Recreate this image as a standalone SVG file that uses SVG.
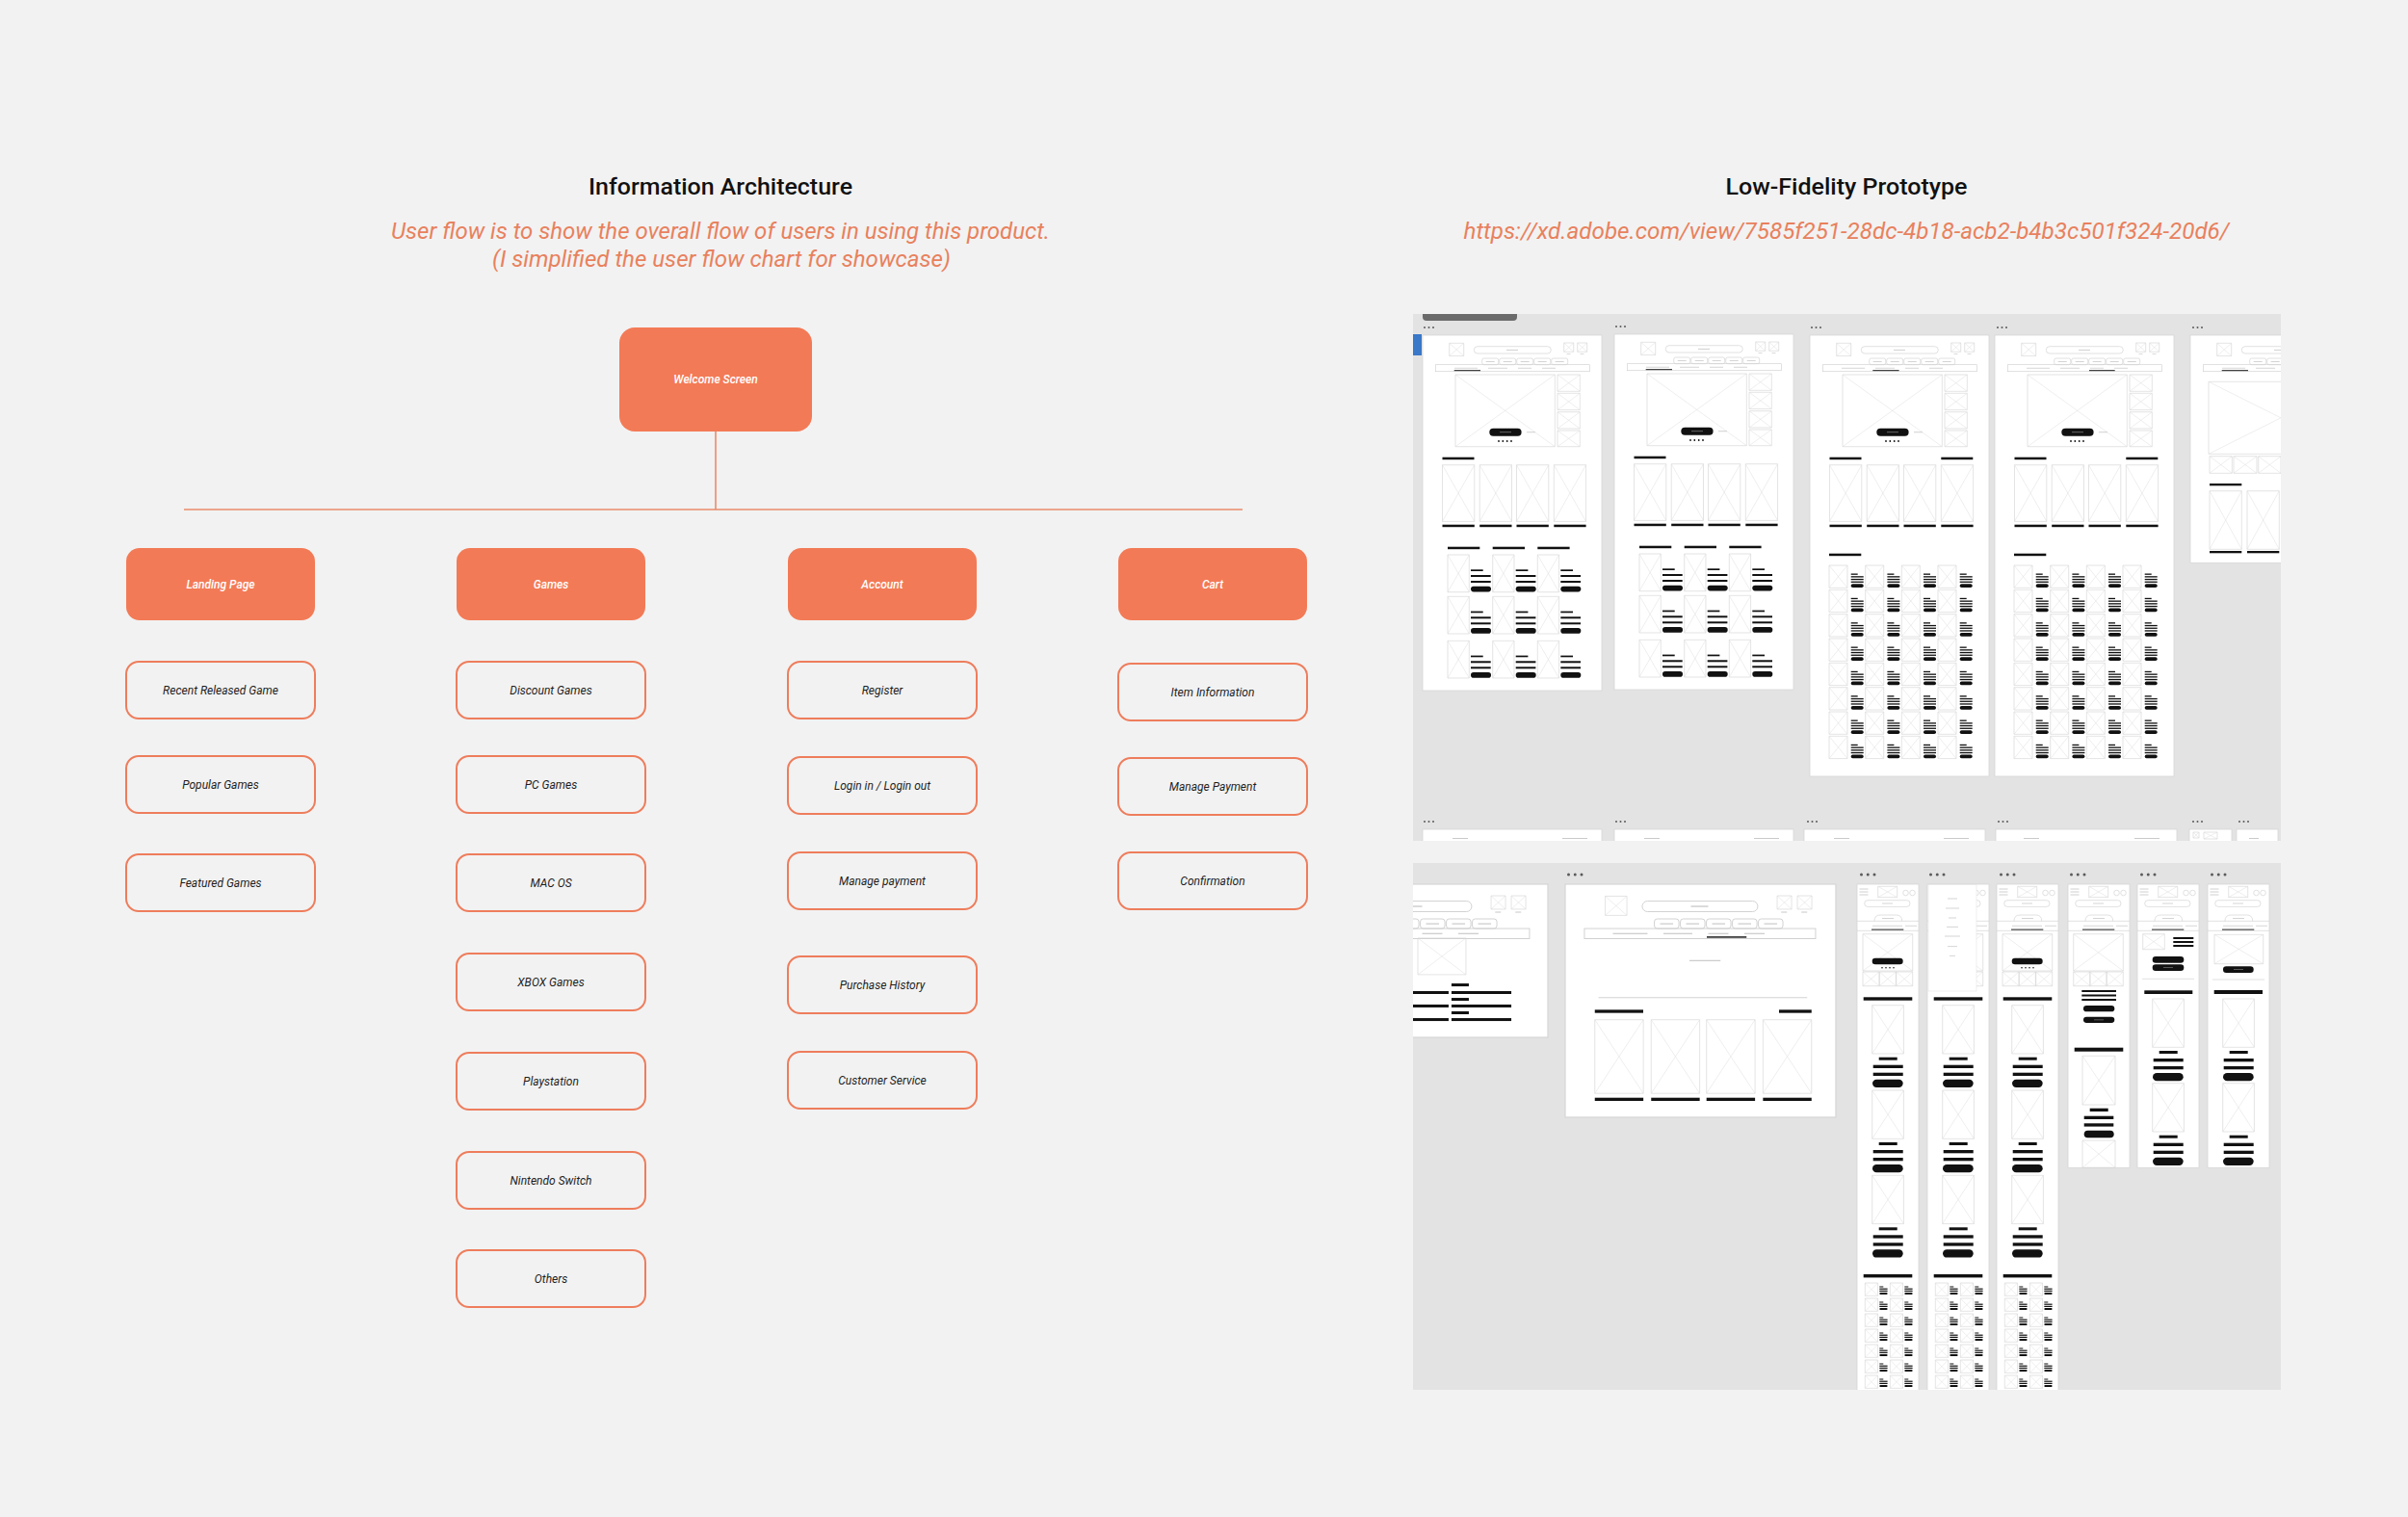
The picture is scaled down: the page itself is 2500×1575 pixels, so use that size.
<svg xmlns="http://www.w3.org/2000/svg" width="2500" height="1575" viewBox="0 0 2500 1575">
<style>
.title{font-family:Roboto,"Liberation Sans",sans-serif;font-weight:500;font-size:24px;fill:#111;text-anchor:middle}
.lede{font-family:Roboto,"Liberation Sans",sans-serif;font-style:italic;font-weight:400;font-size:23px;fill:#E8815D;text-anchor:middle}
.cat rect{fill:#F37A56}
.cat text{font-family:Roboto,"Liberation Sans",sans-serif;font-style:italic;font-weight:500;font-size:12px;fill:#fff;text-anchor:middle}
.leaf rect{fill:#F2F2F2;stroke:#EE7D5C;stroke-width:2}
.leaf text{font-family:Roboto,"Liberation Sans",sans-serif;font-style:italic;font-weight:400;font-size:12px;fill:#1e1e1e;text-anchor:middle}
.conn{fill:none;stroke:#EA8B6A;stroke-width:1.6}
.ab{fill:#fff;stroke:#d6d6d6;stroke-width:0.8}
.ln{fill:none;stroke:#cdcdcd;stroke-width:0.6}
.tx{fill:#cacaca}
.bk{fill:#111}
.dt{fill:#5a5a5a}
.pn{fill:#E3E3E3}
</style>
<defs>
<symbol id="ph" viewBox="0 0 10 10" preserveAspectRatio="none" overflow="visible">
<rect width="10" height="10" fill="none" stroke="#d2d2d2" stroke-width="0.6" vector-effect="non-scaling-stroke"/>
<path d="M0 0L10 10M10 0L0 10" stroke="#dddddd" stroke-width="0.5" fill="none" vector-effect="non-scaling-stroke"/>
</symbol>
<g id="d3" class="dt"><circle cx="1" cy="0" r="1"/><circle cx="5.5" cy="0" r="1"/><circle cx="10" cy="0" r="1"/></g>
<clipPath id="clipTop"><rect x="1467" y="326" width="901" height="547"/></clipPath>
<clipPath id="clipBot"><rect x="1467" y="896" width="901" height="547"/></clipPath>

<g id="dHdr">
<use href="#ph" x="27.7" y="8.3" width="15" height="13.3"/>
<rect x="53.3" y="11.7" width="80" height="7.3" rx="3.65" class="ln"/>
<rect x="87" y="14.9" width="12" height="0.9" class="tx"/>
<use href="#ph" x="146.7" y="8" width="10" height="9.3"/>
<use href="#ph" x="160.7" y="8" width="10" height="9.3"/>
<rect x="149.5" y="19" width="4" height="0.7" class="tx"/>
<rect x="163.5" y="19" width="4" height="0.7" class="tx"/>
<rect x="61.7" y="24" width="17" height="6.7" rx="2" class="ln"/>
<rect x="79.7" y="24" width="17" height="6.7" rx="2" class="ln"/>
<rect x="97.7" y="24" width="17" height="6.7" rx="2" class="ln"/>
<rect x="115.7" y="24" width="17" height="6.7" rx="2" class="ln"/>
<rect x="133.7" y="24" width="17" height="6.7" rx="2" class="ln"/>
<rect x="65.7" y="27" width="9" height="0.8" class="tx"/>
<rect x="83.7" y="27" width="9" height="0.8" class="tx"/>
<rect x="101.7" y="27" width="9" height="0.8" class="tx"/>
<rect x="119.7" y="27" width="9" height="0.8" class="tx"/>
<rect x="137.7" y="27" width="9" height="0.8" class="tx"/>
<rect x="13.3" y="30.7" width="160" height="7" class="ln"/>
<rect x="33" y="33.8" width="24" height="0.8" class="tx"/>
<rect x="68" y="33.8" width="20" height="0.8" class="tx"/>
<rect x="99" y="33.8" width="14" height="0.8" class="tx"/>
<rect x="124" y="33.8" width="14" height="0.8" class="tx"/>
</g>

<g id="dHero">
<use href="#ph" x="34" y="41" width="103.3" height="74.7"/>
<use href="#ph" x="140" y="41" width="23.3" height="17.3"/>
<use href="#ph" x="140" y="60.3" width="23.3" height="17.3"/>
<use href="#ph" x="140" y="79.7" width="23.3" height="17.3"/>
<use href="#ph" x="140" y="99" width="23.3" height="16.7"/>
<rect x="69.3" y="96.7" width="33.3" height="8" rx="4" class="bk"/>
<rect x="80" y="100.4" width="12" height="0.7" fill="#888"/>
<rect x="108" y="100.3" width="9" height="0.9" class="tx"/>
<circle cx="79" cy="110" r="0.9" class="bk"/><circle cx="83.3" cy="110" r="0.9" class="bk"/><circle cx="87.7" cy="110" r="0.9" class="bk"/><circle cx="92" cy="110" r="0.9" class="bk"/>
</g>

<g id="dCards">
<rect x="20.5" y="126.7" width="33" height="2.5" class="bk"/>
<use href="#ph" x="20.5" y="134.7" width="33.3" height="58.7"/>
<use href="#ph" x="59.2" y="134.7" width="33.3" height="58.7"/>
<use href="#ph" x="97.5" y="134.7" width="33.3" height="58.7"/>
<use href="#ph" x="136.3" y="134.7" width="33.3" height="58.7"/>
<rect x="20.5" y="196.7" width="33.3" height="2.5" class="bk"/>
<rect x="59.2" y="196.7" width="33.3" height="2.5" class="bk"/>
<rect x="97.5" y="196.7" width="33.3" height="2.5" class="bk"/>
<rect x="136.3" y="196.7" width="33.3" height="2.5" class="bk"/>
</g>

<g id="li">
<use href="#ph" width="22.3" height="38.7"/>
<rect x="24" y="15.3" width="12.7" height="1.7" class="bk"/>
<rect x="24" y="21" width="20.7" height="2" class="bk"/>
<rect x="24" y="27" width="20.7" height="2" class="bk"/>
<rect x="24" y="32.7" width="21" height="5.7" rx="2.8" class="bk"/>
</g>

<g id="dLand">
<rect class="ab" width="186" height="369"/>
<use href="#dHdr"/>
<rect x="32.7" y="36" width="27.3" height="1.2" fill="#444"/>
<use href="#dHero"/>
<use href="#dCards"/>
<rect x="26" y="219.7" width="33.3" height="2.5" class="bk"/>
<rect x="72.7" y="219.7" width="33.3" height="2.5" class="bk"/>
<rect x="119.3" y="219.7" width="33.3" height="2.5" class="bk"/>
<use href="#li" x="26" y="228"/><use href="#li" x="72.7" y="228"/><use href="#li" x="119.3" y="228"/>
<use href="#li" x="26" y="271.3"/><use href="#li" x="72.7" y="271.3"/><use href="#li" x="119.3" y="271.3"/>
<use href="#li" x="26" y="317.3"/><use href="#li" x="72.7" y="317.3"/><use href="#li" x="119.3" y="317.3"/>
</g>

<g id="ci">
<use href="#ph" width="19" height="23.3"/>
<rect x="22.7" y="8.5" width="7" height="1.3" class="bk"/>
<rect x="22.7" y="11.2" width="13" height="1.3" class="bk"/>
<rect x="22.7" y="13.9" width="13" height="1.3" class="bk"/>
<rect x="22.7" y="16.6" width="13" height="1.3" class="bk"/>
<rect x="22.7" y="19.3" width="13" height="3.7" rx="1.8" class="bk"/>
</g>
<g id="crow"><use href="#ci" x="20"/><use href="#ci" x="57.7"/><use href="#ci" x="95.3"/><use href="#ci" x="133"/></g>

<g id="dCat">
<rect class="ab" width="186" height="458"/>
<use href="#dHdr"/>
<use href="#dHero"/>
<use href="#dCards"/>
<rect x="136.3" y="126.7" width="33" height="2.5" class="bk"/>
<rect x="20" y="226.7" width="33.3" height="2.5" class="bk"/>
<use href="#crow" y="239"/><use href="#crow" y="264.3"/><use href="#crow" y="289.7"/><use href="#crow" y="315"/>
<use href="#crow" y="340.3"/><use href="#crow" y="365.7"/><use href="#crow" y="391"/><use href="#crow" y="416.3"/>
</g>

<g id="mHdr">
<path d="M2.5 5H11.5M2.5 8H11.5M2.5 11H11.5" stroke="#c4c4c4" stroke-width="0.8" fill="none"/>
<use href="#ph" x="21.7" y="2.3" width="20" height="11.3"/>
<circle cx="50.5" cy="9" r="2.8" class="ln"/>
<circle cx="57.5" cy="9" r="2.8" class="ln"/>
<rect x="7.7" y="16.7" width="47.3" height="6.7" rx="3.3" class="ln"/>
<rect x="26" y="19.6" width="11" height="0.8" class="tx"/>
<path d="M18 38.3Q18 32 24 32H40.7Q46.7 32 46.7 38.3" class="ln"/>
<rect x="26" y="35" width="12" height="0.8" class="tx"/>
<path d="M0 38.3H64M0 48.3H64" class="ln"/>
<rect x="16" y="42.8" width="31" height="0.8" class="tx"/>
<rect x="50" y="42.8" width="12" height="0.8" class="tx"/>
<rect x="15" y="46.5" width="33.3" height="1.3" fill="#555"/>
</g>

<g id="mi">
<use href="#ph" x="15.7" width="32.7" height="50.3"/>
<rect x="22.7" y="54" width="19" height="3" class="bk"/>
<rect x="16.7" y="62" width="31" height="3.3" class="bk"/>
<rect x="16.7" y="70" width="31" height="3.3" class="bk"/>
<rect x="16" y="77" width="31.7" height="8.3" rx="4.2" class="bk"/>
</g>

<g id="sr">
<use href="#ph" x="8.3" width="13.3" height="13.3"/>
<rect x="23.3" y="3.5" width="4" height="1" class="bk"/>
<rect x="23.3" y="5.6" width="8.3" height="1.2" class="bk"/>
<rect x="23.3" y="7.8" width="8.3" height="1.2" class="bk"/>
<rect x="23.3" y="10" width="8.3" height="2" rx="1" class="bk"/>
<use href="#ph" x="34.3" width="13.3" height="13.3"/>
<rect x="49.3" y="3.5" width="4" height="1" class="bk"/>
<rect x="49.3" y="5.6" width="8.3" height="1.2" class="bk"/>
<rect x="49.3" y="7.8" width="8.3" height="1.2" class="bk"/>
<rect x="49.3" y="10" width="8.3" height="2" rx="1" class="bk"/>
</g>

<g id="mLand">
<rect class="ab" width="64" height="560"/>
<use href="#mHdr"/>
<use href="#ph" x="6" y="51.7" width="51.7" height="38.3"/>
<rect x="15.7" y="76.7" width="32" height="6.6" rx="3.3" class="bk"/>
<circle cx="26" cy="86.7" r="0.8" class="bk"/><circle cx="30" cy="86.7" r="0.8" class="bk"/><circle cx="34" cy="86.7" r="0.8" class="bk"/><circle cx="38" cy="86.7" r="0.8" class="bk"/>
<use href="#ph" x="6" y="91" width="17" height="14.7"/>
<use href="#ph" x="23.3" y="91" width="17" height="14.7"/>
<use href="#ph" x="40.7" y="91" width="17" height="14.7"/>
<rect x="6.7" y="117.3" width="50.6" height="3.4" class="bk"/>
<use href="#mi" y="125.7"/>
<use href="#mi" y="214"/>
<use href="#mi" y="302.3"/>
<rect x="6.7" y="405" width="50.6" height="3.4" class="bk"/>
<use href="#sr" y="414"/><use href="#sr" y="430"/><use href="#sr" y="446"/><use href="#sr" y="462"/>
<use href="#sr" y="478"/><use href="#sr" y="494"/><use href="#sr" y="510"/><use href="#sr" y="526"/>
</g>
</defs>

<rect class="bg" width="2500" height="1575" fill="#F2F2F2"/>

<text class="title" x="748" y="202" textLength="274" lengthAdjust="spacingAndGlyphs">Information Architecture</text>
<text class="lede" x="748" y="248" textLength="684" lengthAdjust="spacingAndGlyphs">User flow is to show the overall flow of users in using this product.</text>
<text class="lede" x="749" y="277" textLength="476" lengthAdjust="spacingAndGlyphs">(I simplified the user flow chart for showcase)</text>
<text class="title" x="1917" y="202" textLength="251" lengthAdjust="spacingAndGlyphs">Low-Fidelity Prototype</text>
<text class="lede" x="1917" y="248" textLength="795" lengthAdjust="spacingAndGlyphs">https://xd.adobe.com/view/7585f251-28dc-4b18-acb2-b4b3c501f324-20d6/</text>

<g id="connectors">
<path class="conn" d="M743 448V529"/>
<path class="conn" d="M191 529H1290"/>
</g>

<g id="welcome" class="cat"><rect x="643" y="340" width="200" height="108" rx="16"/><text x="743" y="398">Welcome Screen</text></g>

<g id="landing" class="cat"><rect x="131" y="569" width="196" height="75" rx="14"/><text x="229" y="611">Landing Page</text></g>
<g id="games" class="cat"><rect x="474" y="569" width="196" height="75" rx="14"/><text x="572" y="611">Games</text></g>
<g id="account" class="cat"><rect x="818" y="569" width="196" height="75" rx="14"/><text x="916" y="611">Account</text></g>
<g id="cart" class="cat"><rect x="1161" y="569" width="196" height="75" rx="14"/><text x="1259" y="611">Cart</text></g>

<g id="recent" class="leaf"><rect x="131" y="687" width="196" height="59" rx="13"/><text x="229" y="721">Recent Released Game</text></g>
<g id="popular" class="leaf"><rect x="131" y="785" width="196" height="59" rx="13"/><text x="229" y="819">Popular Games</text></g>
<g id="featured" class="leaf"><rect x="131" y="887" width="196" height="59" rx="13"/><text x="229" y="921">Featured Games</text></g>

<g id="discount" class="leaf"><rect x="474" y="687" width="196" height="59" rx="13"/><text x="572" y="721">Discount Games</text></g>
<g id="pc" class="leaf"><rect x="474" y="785" width="196" height="59" rx="13"/><text x="572" y="819">PC Games</text></g>
<g id="mac" class="leaf"><rect x="474" y="887" width="196" height="59" rx="13"/><text x="572" y="921">MAC OS</text></g>
<g id="xbox" class="leaf"><rect x="474" y="990" width="196" height="59" rx="13"/><text x="572" y="1024">XBOX Games</text></g>
<g id="playstation" class="leaf"><rect x="474" y="1093" width="196" height="59" rx="13"/><text x="572" y="1127">Playstation</text></g>
<g id="nintendo" class="leaf"><rect x="474" y="1196" width="196" height="59" rx="13"/><text x="572" y="1230">Nintendo Switch</text></g>
<g id="others" class="leaf"><rect x="474" y="1298" width="196" height="59" rx="13"/><text x="572" y="1332">Others</text></g>

<g id="register" class="leaf"><rect x="818" y="687" width="196" height="59" rx="13"/><text x="916" y="721">Register</text></g>
<g id="login" class="leaf"><rect x="818" y="786" width="196" height="59" rx="13"/><text x="916" y="820">Login in / Login out</text></g>
<g id="manage-payment-acc" class="leaf"><rect x="818" y="885" width="196" height="59" rx="13"/><text x="916" y="919">Manage payment</text></g>
<g id="purchase" class="leaf"><rect x="818" y="993" width="196" height="59" rx="13"/><text x="916" y="1027">Purchase History</text></g>
<g id="customer" class="leaf"><rect x="818" y="1092" width="196" height="59" rx="13"/><text x="916" y="1126">Customer Service</text></g>

<g id="item-info" class="leaf"><rect x="1161" y="689" width="196" height="59" rx="13"/><text x="1259" y="723">Item Information</text></g>
<g id="manage-payment-cart" class="leaf"><rect x="1161" y="787" width="196" height="59" rx="13"/><text x="1259" y="821">Manage Payment</text></g>
<g id="confirmation" class="leaf"><rect x="1161" y="885" width="196" height="59" rx="13"/><text x="1259" y="919">Confirmation</text></g>

<g id="proto-top" clip-path="url(#clipTop)">
<rect class="pn" x="1467" y="326" width="901" height="547"/>
<path d="M1477 326H1575V329Q1575 333 1571 333H1481Q1477 333 1477 329Z" fill="#6b6b6b"/>
<rect x="1467" y="347" width="9" height="22" fill="#3A78C9"/>
<use href="#d3" x="1478" y="340"/><use href="#d3" x="1677" y="339"/><use href="#d3" x="1880" y="340"/><use href="#d3" x="2073" y="340"/><use href="#d3" x="2276" y="340"/>
<use href="#dLand" transform="translate(1477 348)"/>
<use href="#dLand" transform="translate(1676 347)"/>
<g transform="translate(1879 348)"><use href="#dCat"/><rect x="65.3" y="36" width="27.3" height="1.2" fill="#444"/></g>
<g transform="translate(2071 348)"><use href="#dCat"/><rect x="98" y="36" width="26.7" height="1.2" fill="#444"/></g>
<g transform="translate(2274 348)">
<rect class="ab" width="186" height="236.3"/>
<use href="#dHdr"/>
<rect x="32.7" y="36" width="27.3" height="1.2" fill="#444"/>
<use href="#ph" x="19" y="48.3" width="150" height="75"/>
<use href="#ph" x="20" y="125.7" width="23.3" height="17.6"/>
<use href="#ph" x="45" y="125.7" width="24" height="17.6"/>
<use href="#ph" x="70.7" y="125.7" width="23.3" height="17.6"/>
<use href="#ph" x="96" y="125.7" width="23.3" height="17.6"/>
<rect x="20" y="154" width="33.3" height="2.3" class="bk"/>
<use href="#ph" x="20" y="161.7" width="33.3" height="60.6"/>
<use href="#ph" x="59" y="161.7" width="33.3" height="60.6"/>
<use href="#ph" x="98" y="161.7" width="33.3" height="60.6"/>
<rect x="20" y="224" width="33.3" height="2.3" class="bk"/>
<rect x="59" y="224" width="33.3" height="2.3" class="bk"/>
<rect x="98" y="224" width="33.3" height="2.3" class="bk"/>
</g>
<use href="#d3" x="1478" y="853"/><use href="#d3" x="1677" y="853"/><use href="#d3" x="1876" y="853"/><use href="#d3" x="2074" y="853"/><use href="#d3" x="2276" y="853"/><use href="#d3" x="2324" y="853"/>
<rect class="ab" x="1477" y="861" width="186" height="30"/>
<rect class="ab" x="1676" y="861" width="186" height="30"/>
<rect class="ab" x="1873" y="861" width="188" height="30"/>
<rect class="ab" x="2072" y="861" width="188" height="30"/>
<rect class="ab" x="2273" y="861" width="44" height="30"/>
<rect class="ab" x="2322" y="861" width="43" height="30"/>
<rect x="1508" y="870" width="16" height="1" class="tx"/><rect x="1622" y="870" width="26" height="1" class="tx"/>
<rect x="1707" y="870" width="16" height="1" class="tx"/><rect x="1821" y="870" width="26" height="1" class="tx"/>
<rect x="1904" y="870" width="16" height="1" class="tx"/><rect x="2018" y="870" width="26" height="1" class="tx"/>
<rect x="2101" y="870" width="16" height="1" class="tx"/><rect x="2216" y="870" width="26" height="1" class="tx"/>
<use href="#ph" x="2277" y="864" width="6" height="6"/><use href="#ph" x="2288" y="864" width="14" height="7"/>
<rect x="2335" y="870" width="10" height="1" class="tx"/>
</g>

<g id="proto-bottom" clip-path="url(#clipBot)">
<rect class="pn" x="1467" y="896" width="901" height="547"/>
<g transform="translate(1328 918) scale(1.5)">
<rect class="ab" width="186" height="106"/>
<use href="#dHdr"/>
<use href="#ph" x="96" y="37.3" width="33.3" height="25.3"/>
<rect x="119.3" y="68.7" width="12" height="2" class="bk"/>
<rect x="85" y="74" width="32.3" height="2" class="bk"/><rect x="119.3" y="74" width="41.4" height="2" class="bk"/>
<rect x="119.3" y="78.7" width="12" height="2" class="bk"/>
<rect x="85" y="83.3" width="32.3" height="2" class="bk"/><rect x="119.3" y="83.3" width="41.4" height="2" class="bk"/>
<rect x="119.3" y="88" width="12" height="2" class="bk"/>
<rect x="85" y="92.7" width="32.3" height="2" class="bk"/><rect x="119.3" y="92.7" width="41.4" height="2" class="bk"/>
</g>
<use href="#d3" transform="translate(1627 908) scale(1.5)"/>
<g transform="translate(1625 918) scale(1.5)">
<rect class="ab" width="187.3" height="161.3"/>
<use href="#dHdr"/>
<rect x="98" y="36" width="27.5" height="1.2" fill="#444"/>
<rect x="86" y="52.5" width="21.5" height="0.8" class="tx"/>
<path d="M23 78.5H167.5" class="ln"/>
<rect x="20.5" y="86.9" width="33.5" height="2.2" class="bk"/>
<rect x="148" y="86.9" width="22.5" height="2.2" class="bk"/>
<use href="#ph" x="20.5" y="93.8" width="33.6" height="51"/>
<use href="#ph" x="59.5" y="93.8" width="33.6" height="51"/>
<use href="#ph" x="97.8" y="93.8" width="33.6" height="51"/>
<use href="#ph" x="136.9" y="93.8" width="33.6" height="51"/>
<rect x="20.5" y="147.8" width="33.6" height="2.2" class="bk"/>
<rect x="59.5" y="147.8" width="33.6" height="2.2" class="bk"/>
<rect x="97.8" y="147.8" width="33.6" height="2.2" class="bk"/>
<rect x="136.9" y="147.8" width="33.6" height="2.2" class="bk"/>
</g>
<use href="#d3" transform="translate(1931 908) scale(1.5)"/>
<use href="#d3" transform="translate(2003 908) scale(1.5)"/>
<use href="#d3" transform="translate(2076 908) scale(1.5)"/>
<use href="#d3" transform="translate(2149 908) scale(1.5)"/>
<use href="#d3" transform="translate(2222 908) scale(1.5)"/>
<use href="#d3" transform="translate(2295 908) scale(1.5)"/>
<use href="#mLand" transform="translate(1928 918)"/>
<g transform="translate(2001 918)">
<use href="#mLand"/>
<rect x="1" y="0.7" width="50" height="110.3" fill="#fff" stroke="#dddddd" stroke-width="0.5"/>
<rect x="21" y="14.6" width="10" height="0.8" class="tx"/>
<rect x="19" y="24.6" width="14" height="0.8" class="tx"/>
<rect x="22" y="34.6" width="8" height="0.8" class="tx"/>
<rect x="20" y="43.9" width="12" height="0.8" class="tx"/>
<rect x="18" y="53.6" width="16" height="0.8" class="tx"/>
<rect x="21" y="64.3" width="10" height="0.8" class="tx"/>
<rect x="23" y="73.9" width="6" height="0.8" class="tx"/>
</g>
<use href="#mLand" transform="translate(2073 918)"/>
<g transform="translate(2147 918)">
<rect class="ab" width="64" height="294.3"/>
<use href="#mHdr"/>
<use href="#ph" x="5.7" y="51.7" width="51.6" height="38.3"/>
<use href="#ph" x="5.7" y="91" width="17.2" height="14.7"/>
<use href="#ph" x="22.9" y="91" width="17.2" height="14.7"/>
<use href="#ph" x="40.1" y="91" width="17.2" height="14.7"/>
<rect x="14.3" y="110" width="35.7" height="2" class="bk"/>
<rect x="14.3" y="114.5" width="35.7" height="2" class="bk"/>
<rect x="14.3" y="119" width="35.7" height="2" class="bk"/>
<rect x="16" y="126" width="32.3" height="6.3" rx="3.2" class="bk"/>
<rect x="16" y="137.7" width="32.3" height="6.3" rx="3.2" class="bk"/>
<rect x="27" y="140.6" width="10" height="0.6" fill="#888"/>
<rect x="6.7" y="169.7" width="50.6" height="4" class="bk"/>
<use href="#ph" x="15" y="178.3" width="34" height="50.7"/>
<rect x="22.7" y="232.7" width="19" height="3.3" class="bk"/>
<rect x="16.7" y="240.7" width="30.6" height="3.3" class="bk"/>
<rect x="16.7" y="248.3" width="30.6" height="3.3" class="bk"/>
<rect x="16.7" y="255.7" width="31" height="7.6" rx="3.8" class="bk"/>
<use href="#ph" x="15" y="266" width="34" height="28.3"/>
</g>
<g transform="translate(2219 918)">
<rect class="ab" width="64" height="294.3"/>
<use href="#mHdr"/>
<use href="#ph" x="5.7" y="51.7" width="22.6" height="16"/>
<rect x="37.3" y="55" width="21" height="2" class="bk"/>
<rect x="37.3" y="59" width="21" height="2" class="bk"/>
<rect x="37.3" y="63" width="21" height="2" class="bk"/>
<rect x="15.7" y="75" width="32.6" height="6.7" rx="3.3" class="bk"/>
<rect x="15.7" y="83.3" width="32.6" height="6.7" rx="3.3" class="bk"/>
<rect x="27" y="86.4" width="10" height="0.6" fill="#888"/>
<path d="M5 98.3H59" class="ln"/>
<rect x="7.3" y="110.3" width="50" height="3.7" class="bk"/>
<use href="#mi" y="119"/>
<use href="#mi" y="206.7"/>
</g>
<g transform="translate(2292 918)">
<rect class="ab" width="64" height="294.3"/>
<use href="#mHdr"/>
<use href="#ph" x="7" y="52.3" width="50.7" height="30.4"/>
<rect x="16" y="85.3" width="31.7" height="6.7" rx="3.3" class="bk"/>
<rect x="27" y="88.4" width="10" height="0.6" fill="#888"/>
<path d="M5 99H59" class="ln"/>
<rect x="6.7" y="110" width="50.3" height="4" class="bk"/>
<use href="#mi" y="119"/>
<use href="#mi" y="206.7"/>
</g>
</g>
</svg>
